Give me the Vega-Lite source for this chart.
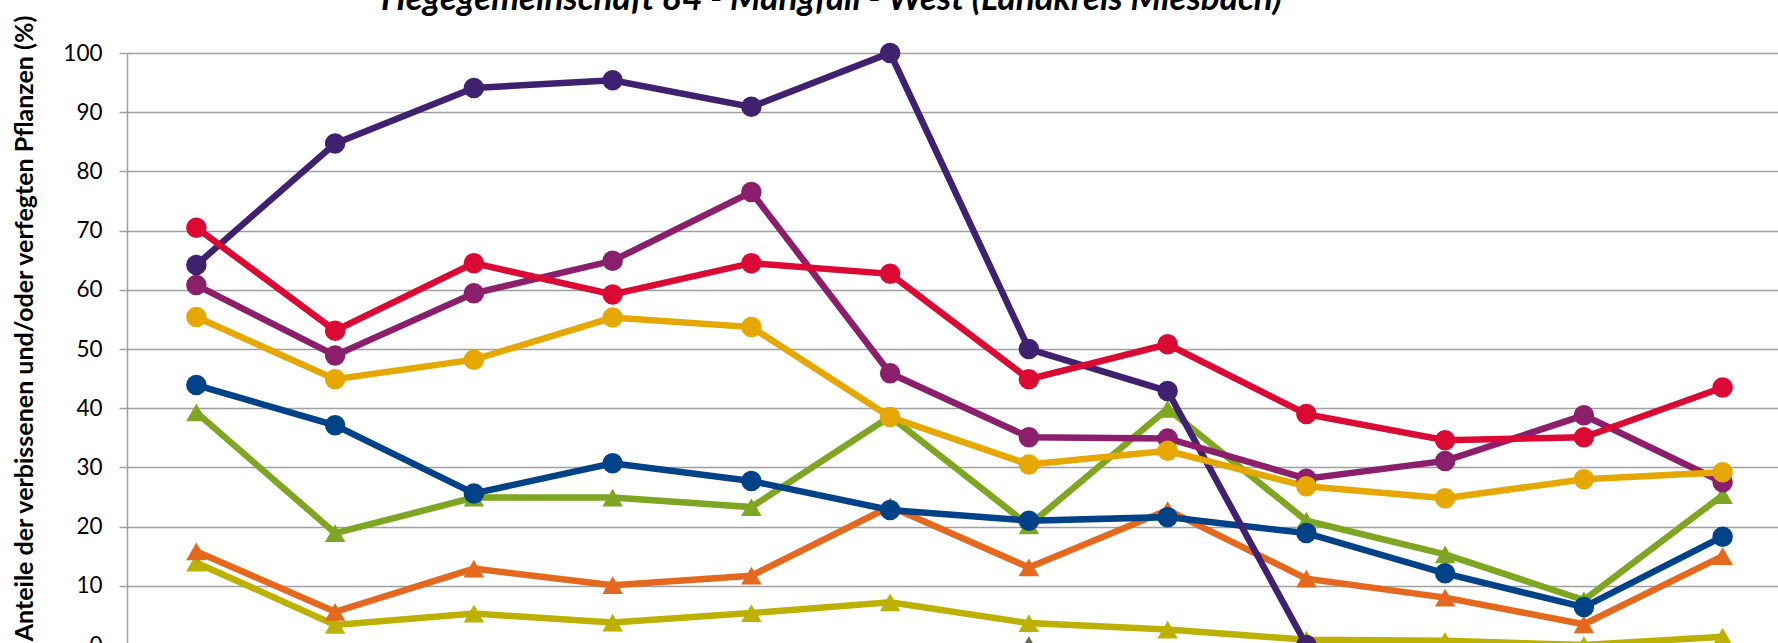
{
  "$schema": "https://vega.github.io/schema/vega-lite/v6.json",
  "width": 1665,
  "height": 592,
  "autosize": {"type": "none"},
  "padding": {"left": 127, "top": 53, "right": -14, "bottom": -2},
  "background": "white",
  "title": {
    "text": "Hegegemeinschaft 84 - Mangfall - West (Landkreis Miesbach)",
    "font": "Lato",
    "fontStyle": "italic",
    "fontWeight": "bold",
    "fontSize": 35,
    "anchor": "middle",
    "frame": "group",
    "baseline": "alphabetic",
    "offset": 0,
    "dy": 31,
    "dx": -128,
    "color": "#000000"
  },
  "config": {"view": {"stroke": null}},
  "data": {
    "values": [
      {"Reihe": "Sonstiges Nadelholz", "Jahr": 1991, "Anteil": 13.9},
      {"Reihe": "Sonstiges Nadelholz", "Jahr": 1994, "Anteil": 3.4},
      {"Reihe": "Sonstiges Nadelholz", "Jahr": 1997, "Anteil": 5.3},
      {"Reihe": "Sonstiges Nadelholz", "Jahr": 2000, "Anteil": 3.8},
      {"Reihe": "Sonstiges Nadelholz", "Jahr": 2003, "Anteil": 5.4},
      {"Reihe": "Sonstiges Nadelholz", "Jahr": 2006, "Anteil": 7.2},
      {"Reihe": "Sonstiges Nadelholz", "Jahr": 2009, "Anteil": 3.7},
      {"Reihe": "Sonstiges Nadelholz", "Jahr": 2012, "Anteil": 2.6},
      {"Reihe": "Sonstiges Nadelholz", "Jahr": 2015, "Anteil": 0.9},
      {"Reihe": "Sonstiges Nadelholz", "Jahr": 2018, "Anteil": 0.7},
      {"Reihe": "Sonstiges Nadelholz", "Jahr": 2021, "Anteil": 0},
      {"Reihe": "Sonstiges Nadelholz", "Jahr": 2024, "Anteil": 1.4},
      {"Reihe": "Kiefer", "Jahr": 2009, "Anteil": 0},
      {"Reihe": "Fichte", "Jahr": 1991, "Anteil": 15.8},
      {"Reihe": "Fichte", "Jahr": 1994, "Anteil": 5.6},
      {"Reihe": "Fichte", "Jahr": 1997, "Anteil": 12.9},
      {"Reihe": "Fichte", "Jahr": 2000, "Anteil": 10.1},
      {"Reihe": "Fichte", "Jahr": 2003, "Anteil": 11.7},
      {"Reihe": "Fichte", "Jahr": 2006, "Anteil": 23.4},
      {"Reihe": "Fichte", "Jahr": 2009, "Anteil": 13.1},
      {"Reihe": "Fichte", "Jahr": 2012, "Anteil": 22.8},
      {"Reihe": "Fichte", "Jahr": 2015, "Anteil": 11.2},
      {"Reihe": "Fichte", "Jahr": 2018, "Anteil": 8.0},
      {"Reihe": "Fichte", "Jahr": 2021, "Anteil": 3.5},
      {"Reihe": "Fichte", "Jahr": 2024, "Anteil": 15.0},
      {"Reihe": "Tanne", "Jahr": 1991, "Anteil": 39.3},
      {"Reihe": "Tanne", "Jahr": 1994, "Anteil": 18.9},
      {"Reihe": "Tanne", "Jahr": 1997, "Anteil": 24.9},
      {"Reihe": "Tanne", "Jahr": 2000, "Anteil": 24.9},
      {"Reihe": "Tanne", "Jahr": 2003, "Anteil": 23.3},
      {"Reihe": "Tanne", "Jahr": 2006, "Anteil": 38.6},
      {"Reihe": "Tanne", "Jahr": 2009, "Anteil": 20.2},
      {"Reihe": "Tanne", "Jahr": 2012, "Anteil": 39.9},
      {"Reihe": "Tanne", "Jahr": 2015, "Anteil": 21.0},
      {"Reihe": "Tanne", "Jahr": 2018, "Anteil": 15.3},
      {"Reihe": "Tanne", "Jahr": 2021, "Anteil": 7.6},
      {"Reihe": "Tanne", "Jahr": 2024, "Anteil": 25.3},
      {"Reihe": "Buche", "Jahr": 1991, "Anteil": 43.9},
      {"Reihe": "Buche", "Jahr": 1994, "Anteil": 37.1},
      {"Reihe": "Buche", "Jahr": 1997, "Anteil": 25.6},
      {"Reihe": "Buche", "Jahr": 2000, "Anteil": 30.7},
      {"Reihe": "Buche", "Jahr": 2003, "Anteil": 27.7},
      {"Reihe": "Buche", "Jahr": 2006, "Anteil": 22.8},
      {"Reihe": "Buche", "Jahr": 2009, "Anteil": 21.0},
      {"Reihe": "Buche", "Jahr": 2012, "Anteil": 21.6},
      {"Reihe": "Buche", "Jahr": 2015, "Anteil": 18.9},
      {"Reihe": "Buche", "Jahr": 2018, "Anteil": 12.1},
      {"Reihe": "Buche", "Jahr": 2021, "Anteil": 6.4},
      {"Reihe": "Buche", "Jahr": 2024, "Anteil": 18.3},
      {"Reihe": "Eiche", "Jahr": 1991, "Anteil": 64.2},
      {"Reihe": "Eiche", "Jahr": 1994, "Anteil": 84.7},
      {"Reihe": "Eiche", "Jahr": 1997, "Anteil": 94.1},
      {"Reihe": "Eiche", "Jahr": 2000, "Anteil": 95.4},
      {"Reihe": "Eiche", "Jahr": 2003, "Anteil": 90.9},
      {"Reihe": "Eiche", "Jahr": 2006, "Anteil": 100},
      {"Reihe": "Eiche", "Jahr": 2009, "Anteil": 50.0},
      {"Reihe": "Eiche", "Jahr": 2012, "Anteil": 42.9},
      {"Reihe": "Eiche", "Jahr": 2015, "Anteil": 0},
      {"Reihe": "Sonstiges Laubholz", "Jahr": 1991, "Anteil": 60.8},
      {"Reihe": "Sonstiges Laubholz", "Jahr": 1994, "Anteil": 48.9},
      {"Reihe": "Sonstiges Laubholz", "Jahr": 1997, "Anteil": 59.4},
      {"Reihe": "Sonstiges Laubholz", "Jahr": 2000, "Anteil": 64.9},
      {"Reihe": "Sonstiges Laubholz", "Jahr": 2003, "Anteil": 76.5},
      {"Reihe": "Sonstiges Laubholz", "Jahr": 2006, "Anteil": 45.9},
      {"Reihe": "Sonstiges Laubholz", "Jahr": 2009, "Anteil": 35.1},
      {"Reihe": "Sonstiges Laubholz", "Jahr": 2012, "Anteil": 34.9},
      {"Reihe": "Sonstiges Laubholz", "Jahr": 2015, "Anteil": 28.1},
      {"Reihe": "Sonstiges Laubholz", "Jahr": 2018, "Anteil": 31.1},
      {"Reihe": "Sonstiges Laubholz", "Jahr": 2021, "Anteil": 38.8},
      {"Reihe": "Sonstiges Laubholz", "Jahr": 2024, "Anteil": 27.5},
      {"Reihe": "Laubholz gesamt", "Jahr": 1991, "Anteil": 55.4},
      {"Reihe": "Laubholz gesamt", "Jahr": 1994, "Anteil": 44.9},
      {"Reihe": "Laubholz gesamt", "Jahr": 1997, "Anteil": 48.2},
      {"Reihe": "Laubholz gesamt", "Jahr": 2000, "Anteil": 55.3},
      {"Reihe": "Laubholz gesamt", "Jahr": 2003, "Anteil": 53.7},
      {"Reihe": "Laubholz gesamt", "Jahr": 2006, "Anteil": 38.5},
      {"Reihe": "Laubholz gesamt", "Jahr": 2009, "Anteil": 30.5},
      {"Reihe": "Laubholz gesamt", "Jahr": 2012, "Anteil": 32.8},
      {"Reihe": "Laubholz gesamt", "Jahr": 2015, "Anteil": 26.8},
      {"Reihe": "Laubholz gesamt", "Jahr": 2018, "Anteil": 24.8},
      {"Reihe": "Laubholz gesamt", "Jahr": 2021, "Anteil": 28.0},
      {"Reihe": "Laubholz gesamt", "Jahr": 2024, "Anteil": 29.2},
      {"Reihe": "Edellaubholz", "Jahr": 1991, "Anteil": 70.5},
      {"Reihe": "Edellaubholz", "Jahr": 1994, "Anteil": 53.1},
      {"Reihe": "Edellaubholz", "Jahr": 1997, "Anteil": 64.5},
      {"Reihe": "Edellaubholz", "Jahr": 2000, "Anteil": 59.2},
      {"Reihe": "Edellaubholz", "Jahr": 2003, "Anteil": 64.5},
      {"Reihe": "Edellaubholz", "Jahr": 2006, "Anteil": 62.7},
      {"Reihe": "Edellaubholz", "Jahr": 2009, "Anteil": 44.9},
      {"Reihe": "Edellaubholz", "Jahr": 2012, "Anteil": 50.8},
      {"Reihe": "Edellaubholz", "Jahr": 2015, "Anteil": 39.0},
      {"Reihe": "Edellaubholz", "Jahr": 2018, "Anteil": 34.6},
      {"Reihe": "Edellaubholz", "Jahr": 2021, "Anteil": 35.1},
      {"Reihe": "Edellaubholz", "Jahr": 2024, "Anteil": 43.5}
    ]
  },
  "encoding": {
    "x": {
      "field": "Jahr",
      "type": "ordinal",
      "scale": {"type": "point", "padding": 0.5},
      "axis": null
    },
    "y": {
      "field": "Anteil",
      "type": "quantitative",
      "scale": {"domain": [0, 100], "nice": false, "zero": false},
      "axis": {
        "values": [0, 10, 20, 30, 40, 50, 60, 70, 80, 90, 100],
        "grid": true,
        "gridColor": "#A0A0A0",
        "gridWidth": 1.5,
        "domainColor": "#A0A0A0",
        "domainWidth": 1.5,
        "tickColor": "#A0A0A0",
        "tickSize": 8,
        "tickWidth": 1.5,
        "labelFont": "Lato",
        "labelFontSize": 22.5,
        "labelColor": "#000000",
        "labelPadding": 17,
        "title": "Anteile der verbissenen und/oder verfegten Pflanzen (%)",
        "titleFont": "Lato",
        "titleFontSize": 25,
        "titleFontWeight": "bold",
        "titleColor": "#000000",
        "titleAngle": -90,
        "titleX": -95,
        "titleY": 275,
        "titleAlign": "center",
        "titleBaseline": "alphabetic"
      }
    },
    "color": {
      "field": "Reihe",
      "type": "nominal",
      "scale": {
        "domain": ["Sonstiges Nadelholz", "Kiefer", "Fichte", "Tanne", "Buche", "Eiche", "Sonstiges Laubholz", "Laubholz gesamt", "Edellaubholz"],
        "range": ["#BCB100", "#646A5A", "#E4691F", "#7EA622", "#004288", "#3F2170", "#8C1F6B", "#E5A700", "#DA0A34"]
      },
      "legend": null
    }
  },
  "layer": [
    {"mark": {"type": "line", "strokeWidth": 6.5, "clip": false}},
    {
      "mark": {"type": "point", "filled": true, "size": 420, "opacity": 1, "clip": false},
      "encoding": {
        "shape": {
          "field": "Reihe",
          "type": "nominal",
          "scale": {
            "domain": ["Sonstiges Nadelholz", "Kiefer", "Fichte", "Tanne", "Buche", "Eiche", "Sonstiges Laubholz", "Laubholz gesamt", "Edellaubholz"],
            "range": ["triangle-up", "triangle-up", "triangle-up", "triangle-up", "circle", "circle", "circle", "circle", "circle"]
          },
          "legend": null
        }
      }
    }
  ]
}
